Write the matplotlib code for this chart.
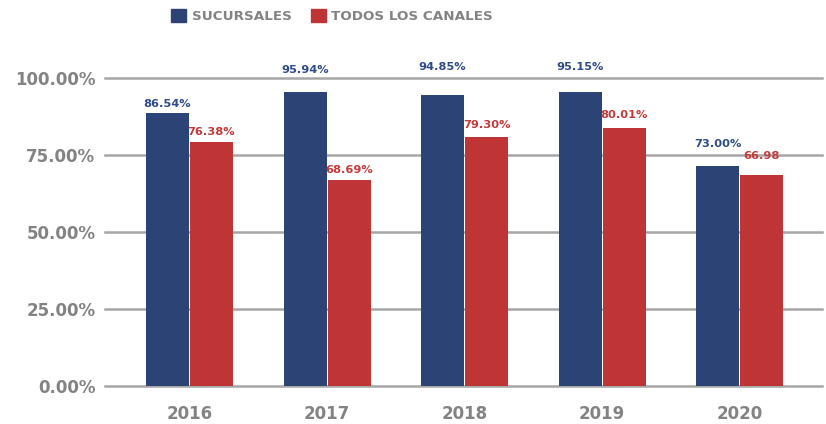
import numpy as np
import matplotlib
matplotlib.use("Agg")
from matplotlib import pyplot as plt
from matplotlib.patches import Patch

# data
years = ["2016", "2017", "2018", "2019", "2020"]
sucursales = [88.7, 95.5, 94.5, 95.5, 71.4]          # bar heights
todos_canales = [79.3, 66.9, 80.8, 83.8, 68.5]
sucursales_lbl = ["86.54%", "95.94%", "94.85%", "95.15%", "73.00%"]   # printed labels
todos_canales_lbl = ["76.38%", "68.69%", "79.30%", "80.01%", "66.98"]
y_ticks = [0, 25, 50, 75, 100]

# label offsets above bar top (points)
suc_off = [6, 16, 20, 18, 16]
tod_off = [7, 7, 9, 9, 14]

blue = "#2c4475"
red = "#bf3434"
blue_txt = "#2e4c8a"
red_txt = "#c23a3a"
gray = "#838383"
grid_c = "#a6a6a6"

plt.rcParams["font.family"] = ["DejaVu Sans"]
fig = plt.figure(figsize=(8.26, 4.24), dpi=100)
ax = fig.add_axes([105/826, 1-386/424, (822-105)/826, (386-78)/424])

x = np.arange(len(years))
w = 0.313
b1 = ax.bar(x - 0.16, sucursales, w, color=blue, zorder=3)
b2 = ax.bar(x + 0.16, todos_canales, w, color=red, zorder=3)

for rect, lbl, off in zip(b1, sucursales_lbl, suc_off):
    ax.annotate(lbl, (rect.get_x() + rect.get_width()/2, rect.get_height()),
                xytext=(0, off), textcoords="offset points", ha="center", va="center",
                color=blue_txt, fontsize=8.2, fontweight="bold", annotation_clip=False)
for rect, lbl, off in zip(b2, todos_canales_lbl, tod_off):
    ax.annotate(lbl, (rect.get_x() + rect.get_width()/2, rect.get_height()),
                xytext=(0, off), textcoords="offset points", ha="center", va="center",
                color=red_txt, fontsize=8.2, fontweight="bold", annotation_clip=False)

ax.set_xlim(-0.615, 4.6)
ax.set_ylim(0, 100)
ax.set_yticks(y_ticks)
ax.set_yticklabels([f"{v:.2f}%" for v in y_ticks])
ax.set_xticks(x)
ax.set_xticklabels(years)
ax.yaxis.grid(True, color=grid_c, linewidth=1.8, zorder=0)
ax.set_axisbelow(True)
for gl in ax.get_ygridlines():
    gl.set_clip_on(False)
for s in ax.spines.values():
    s.set_visible(False)
ax.tick_params(axis="both", length=0, colors=gray, labelsize=12)
ax.tick_params(axis="y", pad=7)
ax.tick_params(axis="x", pad=14)
for t in ax.get_xticklabels() + ax.get_yticklabels():
    t.set_fontweight("bold")

handles = [Patch(color=blue, label="SUCURSALES"), Patch(color=red, label="TODOS LOS CANALES")]
leg = fig.legend(handles=handles, loc="upper center", bbox_to_anchor=(0.402, 1.008), ncol=2,
                 frameon=False, handlelength=1.15, handleheight=1.15, handletextpad=0.4,
                 columnspacing=1.4, prop={"weight": "bold", "size": 9.7})
for t in leg.get_texts():
    t.set_color(gray)

fig.savefig("out.png", dpi=100)
